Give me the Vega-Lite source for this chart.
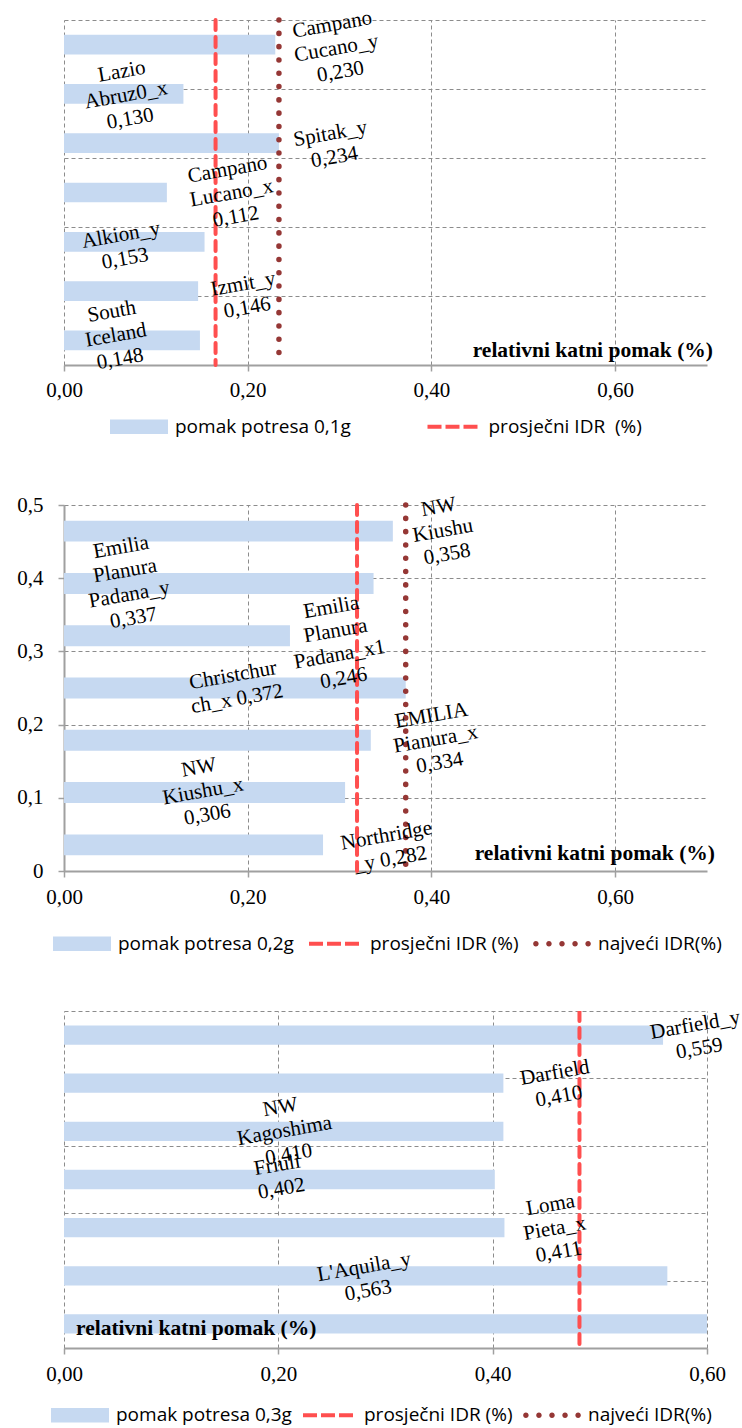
{
  "$schema": "https://vega.github.io/schema/vega-lite/v6.json",
  "background": "white",
  "padding": {"left": 16, "top": 6, "right": 0, "bottom": 0},
  "spacing": 140,
  "bounds": "flush",
  "config": {
    "view": {"stroke": null},
    "axis": {"gridColor": "#8c8c8c", "gridDash": [4, 3], "gridWidth": 1, "domainColor": "#a0a0a0", "domainWidth": 2, "tickColor": "#a0a0a0", "tickWidth": 1.5, "tickSize": 6, "labelFont": "Liberation Serif", "labelFontSize": 21, "labelColor": "#000000", "labelFlush": false, "labelOverlap": false},
    "legend": {"title": null, "orient": "none", "direction": "horizontal", "symbolSize": 841, "symbolStrokeWidth": 0, "labelFont": "Open Sans", "labelFontSize": 19, "labelColor": "#000000", "labelOffset": 21.5, "labelLimit": 400, "padding": 0}
  },
  "resolve": {"scale": {"fill": "independent", "shape": "independent"}},
  "datasets": {
    "bars": [
      {"panel": 1, "order": 1, "name": "Campano Cucano_y", "value": 0.230, "label": "Campano\nCucano_y\n0,230", "lx": 0.292, "ly": 0.493},
      {"panel": 1, "order": 2, "name": "Lazio Abruz0_x", "value": 0.130, "label": "Lazio\nAbruz0_x\n0,130", "lx": 0.063, "ly": 0.425},
      {"panel": 1, "order": 3, "name": "Spitak_y", "value": 0.234, "label": "Spitak_y\n0,234", "lx": 0.290, "ly": 0.335},
      {"panel": 1, "order": 4, "name": "Campano Lucano_x", "value": 0.112, "label": "Campano\nLucano_x\n0,112", "lx": 0.178, "ly": 0.283},
      {"panel": 1, "order": 5, "name": "Alkion_y", "value": 0.153, "label": "Alkion_y\n0,153", "lx": 0.062, "ly": 0.188},
      {"panel": 1, "order": 6, "name": "Izmit_y", "value": 0.146, "label": "Izmit_y\n0,146", "lx": 0.195, "ly": 0.117},
      {"panel": 1, "order": 7, "name": "South Iceland", "value": 0.148, "label": "South\nIceland\n0,148", "lx": 0.052, "ly": 0.077},
      {"panel": 2, "order": 1, "name": "NW Kiushu", "value": 0.358, "label": "NW\nKiushu\n0,358", "lx": 0.408, "ly": 0.497},
      {"panel": 2, "order": 2, "name": "Emilia Planura Padana_y", "value": 0.337, "label": "Emilia\nPlanura\nPadana_y\n0,337", "lx": 0.062, "ly": 0.442},
      {"panel": 2, "order": 3, "name": "Emilia Planura Padana_x1", "value": 0.246, "label": "Emilia\nPlanura\nPadana_x1\n0,246", "lx": 0.291, "ly": 0.360},
      {"panel": 2, "order": 4, "name": "Christchurch_x", "value": 0.372, "label": "Christchur\nch_x 0,372", "lx": 0.184, "ly": 0.267},
      {"panel": 2, "order": 5, "name": "EMILIA Pianura_x", "value": 0.334, "label": "EMILIA\nPianura_x\n0,334", "lx": 0.400, "ly": 0.212},
      {"panel": 2, "order": 6, "name": "NW Kiushu_x", "value": 0.306, "label": "NW\nKiushu_x\n0,306", "lx": 0.147, "ly": 0.141},
      {"panel": 2, "order": 7, "name": "Northridge_y", "value": 0.282, "label": "Northridge\n_y 0,282", "lx": 0.351, "ly": 0.048},
      {"panel": 3, "order": 1, "name": "Darfield_y", "value": 0.559, "label": "Darfield_y\n0,559", "lx": 0.589, "ly": 0.479},
      {"panel": 3, "order": 2, "name": "Darfield", "value": 0.410, "label": "Darfield\n0,410", "lx": 0.458, "ly": 0.408},
      {"panel": 3, "order": 3, "name": "NW Kagoshima", "value": 0.410, "label": "NW\nKagoshima\n0,410", "lx": 0.202, "ly": 0.357},
      {"panel": 3, "order": 4, "name": "Friuli", "value": 0.402, "label": "Friuli\n0,402", "lx": 0.199, "ly": 0.271},
      {"panel": 3, "order": 5, "name": "Loma Pieta_x", "value": 0.411, "label": "Loma\nPieta_x\n0,411", "lx": 0.454, "ly": 0.212},
      {"panel": 3, "order": 6, "name": "L'Aquila_y", "value": 0.563, "label": "L'Aquila_y\n0,563", "lx": 0.280, "ly": 0.120},
      {"panel": 3, "order": 7, "name": "bar 7", "value": 0.615, "label": null, "lx": null, "ly": null}
    ],
    "lines": [
      {"panel": 1, "kind": "avg", "value": 0.165},
      {"panel": 1, "kind": "max", "value": 0.234},
      {"panel": 2, "kind": "avg", "value": 0.319},
      {"panel": 2, "kind": "max", "value": 0.372},
      {"panel": 3, "kind": "avg", "value": 0.481},
      {"panel": 3, "kind": "max", "value": 0.615}
    ],
    "legend": [
      {"panel": 1, "series": "pomak potresa 0,1g"},
      {"panel": 1, "series": "prosječni IDR\u00a0 (%)"},
      {"panel": 2, "series": "pomak potresa 0,2g"},
      {"panel": 2, "series": "prosječni IDR (%)"},
      {"panel": 2, "series": "najveći IDR(%)"},
      {"panel": 3, "series": "pomak potresa 0,3g"},
      {"panel": 3, "series": "prosječni IDR (%)"},
      {"panel": 3, "series": "najveći IDR(%)"}
    ],
    "titles": [
      {"panel": 1, "t": "relativni katni pomak (%)"},
      {"panel": 2, "t": "relativni katni pomak (%)"},
      {"panel": 3, "t": "relativni katni pomak (%)"}
    ]
  },
  "vconcat": [
    {
      "width": 643, "height": 345,
      "resolve": {"scale": {"y": "independent"}},
      "layer": [
        {
          "data": {"name": "bars"},
          "transform": [{"filter": "datum.panel == 1"}],
          "mark": {"type": "bar", "color": "#C6D9F1", "opacity": 1},
          "encoding": {
            "x": {"field": "value", "type": "quantitative", "scale": {"domain": [0, 0.7], "nice": false}, "axis": {"values": [0, 0.2, 0.4, 0.6], "labelExpr": "replace(format(datum.value, '.2f'), '.', ',')", "labelPadding": 8, "title": null, "grid": true}},
            "y": {"field": "name", "type": "nominal", "sort": {"field": "order"}, "scale": {"paddingInner": 0.6, "paddingOuter": 0.3}, "axis": null}
          }
        },
        {
          "data": {"name": "lines"},
          "transform": [{"filter": "datum.panel == 1 && datum.kind == 'avg'"}],
          "mark": {"type": "rule", "color": "#FF4F4F", "strokeWidth": 4, "strokeDash": [10, 7], "strokeCap": "round"},
          "encoding": {"x": {"field": "value", "type": "quantitative"}}
        },
        {
          "data": {"name": "lines"},
          "transform": [{"filter": "datum.panel == 1 && datum.kind == 'max'"}],
          "mark": {"type": "rule", "color": "#953735", "strokeWidth": 5.5, "strokeDash": [0.1, 13.2], "strokeCap": "round"},
          "encoding": {"x": {"field": "value", "type": "quantitative"}}
        },
        {
          "data": {"name": "bars"},
          "transform": [{"filter": "datum.panel == 1"}],
          "mark": {"type": "text", "font": "Liberation Serif", "fontSize": 21, "angle": 350, "lineBreak": "\n", "lineHeight": 24, "align": "center", "baseline": "middle", "color": "#000000"},
          "encoding": {
            "x": {"field": "lx", "type": "quantitative"},
            "y": {"field": "ly", "type": "quantitative", "scale": {"domain": [0, 0.5], "nice": false}, "axis": {"orient": "left", "values": [0, 0.1, 0.2, 0.3, 0.4, 0.5], "grid": true, "labels": false, "ticks": false, "domain": false, "title": null}},
            "text": {"field": "label", "type": "nominal"}
          }
        },
        {
          "data": {"name": "titles"},
          "transform": [{"filter": "datum.panel == 1"}],
          "mark": {"type": "text", "font": "Liberation Serif", "fontSize": 21.5, "fontWeight": "bold", "align": "right", "baseline": "alphabetic", "dx": 6, "dy": -8, "color": "#000000"},
          "encoding": {
            "x": {"datum": 0.7, "type": "quantitative"},
            "y": {"datum": 0, "type": "quantitative", "scale": {"domain": [0, 0.5], "nice": false}, "axis": null},
            "text": {"field": "t", "type": "nominal"}
          }
        },
        {
          "data": {"name": "legend"},
          "transform": [{"filter": "datum.panel == 0"}],
          "mark": {"type": "point", "filled": true, "opacity": 1},
          "encoding": {
            "fill": {"field": "series", "type": "nominal", "scale": {"domain": ["pomak potresa 0,1g", "prosječni IDR\u00a0 (%)"], "range": ["#C6D9F1", "#FF4F4F"]},
              "legend": {"legendX": 60.5, "legendY": 392, "columnPadding": 75.5}},
            "shape": {"field": "series", "type": "nominal", "scale": {"domain": ["pomak potresa 0,1g", "prosječni IDR\u00a0 (%)"], "range": ["M-2,-0.5H2V0.5H-2Z", "M-1.724,-0.138H-0.758V0.138H-1.724Z M-0.482,-0.138H0.482V0.138H-0.482Z M0.758,-0.138H1.724V0.138H0.758Z"]},
              "legend": {"legendX": 60.5, "legendY": 392, "columnPadding": 75.5}}
          }
        }
      ]
    },
    {
      "width": 643, "height": 366,
      "resolve": {"scale": {"y": "independent"}},
      "layer": [
        {
          "data": {"name": "bars"},
          "transform": [{"filter": "datum.panel == 2"}],
          "mark": {"type": "bar", "color": "#C6D9F1", "opacity": 1},
          "encoding": {
            "x": {"field": "value", "type": "quantitative", "scale": {"domain": [0, 0.7], "nice": false}, "axis": {"values": [0, 0.2, 0.4, 0.6], "labelExpr": "replace(format(datum.value, '.2f'), '.', ',')", "labelPadding": 9, "title": null, "grid": true}},
            "y": {"field": "name", "type": "nominal", "sort": {"field": "order"}, "scale": {"paddingInner": 0.6, "paddingOuter": 0.3}, "axis": null}
          }
        },
        {
          "data": {"name": "lines"},
          "transform": [{"filter": "datum.panel == 2 && datum.kind == 'avg'"}],
          "mark": {"type": "rule", "color": "#FF4F4F", "strokeWidth": 4, "strokeDash": [10, 7], "strokeCap": "round"},
          "encoding": {"x": {"field": "value", "type": "quantitative"}}
        },
        {
          "data": {"name": "lines"},
          "transform": [{"filter": "datum.panel == 2 && datum.kind == 'max'"}],
          "mark": {"type": "rule", "color": "#953735", "strokeWidth": 5.5, "strokeDash": [0.1, 13.2], "strokeCap": "round"},
          "encoding": {"x": {"field": "value", "type": "quantitative"}}
        },
        {
          "data": {"name": "bars"},
          "transform": [{"filter": "datum.panel == 2"}],
          "mark": {"type": "text", "font": "Liberation Serif", "fontSize": 21, "angle": 350, "lineBreak": "\n", "lineHeight": 24, "align": "center", "baseline": "middle", "color": "#000000"},
          "encoding": {
            "x": {"field": "lx", "type": "quantitative"},
            "y": {"field": "ly", "type": "quantitative", "scale": {"domain": [0, 0.5], "nice": false}, "axis": {"orient": "left", "values": [0, 0.1, 0.2, 0.3, 0.4, 0.5], "grid": true, "labelExpr": "replace(format(datum.value, '.1~f'), '.', ',')", "labelPadding": 15, "ticks": true, "domain": true, "title": null}},
            "text": {"field": "label", "type": "nominal"}
          }
        },
        {
          "data": {"name": "titles"},
          "transform": [{"filter": "datum.panel == 2"}],
          "mark": {"type": "text", "font": "Liberation Serif", "fontSize": 21.5, "fontWeight": "bold", "align": "right", "baseline": "alphabetic", "dx": 8, "dy": -11, "color": "#000000"},
          "encoding": {
            "x": {"datum": 0.7, "type": "quantitative"},
            "y": {"datum": 0, "type": "quantitative", "scale": {"domain": [0, 0.5], "nice": false}, "axis": null},
            "text": {"field": "t", "type": "nominal"}
          }
        },
        {
          "data": {"name": "legend"},
          "transform": [{"filter": "datum.panel == 0"}],
          "mark": {"type": "point", "filled": true, "opacity": 1},
          "encoding": {
            "fill": {"field": "series", "type": "nominal", "scale": {"domain": ["pomak potresa 0,2g", "prosječni IDR (%)", "najveći IDR(%)"], "range": ["#C6D9F1", "#FF4F4F", "#953735"]},
              "legend": {"legendX": 3.5, "legendY": 424, "columnPadding": 14}},
            "shape": {"field": "series", "type": "nominal", "scale": {"domain": ["pomak potresa 0,2g", "prosječni IDR (%)", "najveći IDR(%)"], "range": ["M-2,-0.5H2V0.5H-2Z", "M-1.724,-0.138H-0.758V0.138H-1.724Z M-0.482,-0.138H0.482V0.138H-0.482Z M0.758,-0.138H1.724V0.138H0.758Z", "M-1.99,0a0.19,0.19 0 1,0 0.38,0a0.19,0.19 0 1,0 -0.38,0Z M-1.09,0a0.19,0.19 0 1,0 0.38,0a0.19,0.19 0 1,0 -0.38,0Z M-0.19,0a0.19,0.19 0 1,0 0.38,0a0.19,0.19 0 1,0 -0.38,0Z M0.71,0a0.19,0.19 0 1,0 0.38,0a0.19,0.19 0 1,0 -0.38,0Z M1.61,0a0.19,0.19 0 1,0 0.38,0a0.19,0.19 0 1,0 -0.38,0Z"]},
              "legend": {"legendX": 3.5, "legendY": 424, "columnPadding": 14}}
          }
        }
      ]
    },
    {
      "width": 643, "height": 337,
      "resolve": {"scale": {"y": "independent"}},
      "layer": [
        {
          "data": {"name": "bars"},
          "transform": [{"filter": "datum.panel == 3"}],
          "mark": {"type": "bar", "color": "#C6D9F1", "opacity": 1, "clip": true},
          "encoding": {
            "x": {"field": "value", "type": "quantitative", "scale": {"domain": [0, 0.6], "nice": false}, "axis": {"values": [0, 0.2, 0.4, 0.6], "labelExpr": "replace(format(datum.value, '.2f'), '.', ',')", "labelPadding": 9, "title": null, "grid": true}},
            "y": {"field": "name", "type": "nominal", "sort": {"field": "order"}, "scale": {"paddingInner": 0.6, "paddingOuter": 0.3}, "axis": null}
          }
        },
        {
          "data": {"name": "lines"},
          "transform": [{"filter": "datum.panel == 3 && datum.kind == 'avg'"}],
          "mark": {"type": "rule", "color": "#FF4F4F", "strokeWidth": 4, "strokeDash": [10, 7], "strokeCap": "round", "clip": true},
          "encoding": {"x": {"field": "value", "type": "quantitative"}}
        },
        {
          "data": {"name": "lines"},
          "transform": [{"filter": "datum.panel == 3 && datum.kind == 'max'"}],
          "mark": {"type": "rule", "color": "#953735", "strokeWidth": 5.5, "strokeDash": [0.1, 13.2], "strokeCap": "round", "clip": true},
          "encoding": {"x": {"field": "value", "type": "quantitative"}}
        },
        {
          "data": {"name": "bars"},
          "transform": [{"filter": "datum.panel == 3"}],
          "mark": {"type": "text", "font": "Liberation Serif", "fontSize": 21, "angle": 350, "lineBreak": "\n", "lineHeight": 24, "align": "center", "baseline": "middle", "color": "#000000"},
          "encoding": {
            "x": {"field": "lx", "type": "quantitative"},
            "y": {"field": "ly", "type": "quantitative", "scale": {"domain": [0, 0.5], "nice": false}, "axis": {"orient": "left", "values": [0, 0.1, 0.2, 0.3, 0.4, 0.5], "grid": true, "labels": false, "ticks": false, "domain": false, "title": null}},
            "text": {"field": "label", "type": "nominal"}
          }
        },
        {
          "data": {"name": "titles"},
          "transform": [{"filter": "datum.panel == 3"}],
          "mark": {"type": "text", "font": "Liberation Serif", "fontSize": 21.5, "fontWeight": "bold", "align": "left", "baseline": "alphabetic", "dx": 12, "dy": -13, "color": "#000000"},
          "encoding": {
            "x": {"datum": 0, "type": "quantitative"},
            "y": {"datum": 0, "type": "quantitative", "scale": {"domain": [0, 0.5], "nice": false}, "axis": null},
            "text": {"field": "t", "type": "nominal"}
          }
        },
        {
          "data": {"name": "legend"},
          "transform": [{"filter": "datum.panel == 0"}],
          "mark": {"type": "point", "filled": true, "opacity": 1},
          "encoding": {
            "fill": {"field": "series", "type": "nominal", "scale": {"domain": ["pomak potresa 0,3g", "prosječni IDR (%)", "najveći IDR(%)"], "range": ["#C6D9F1", "#FF4F4F", "#953735"]},
              "legend": {"legendX": 1.5, "legendY": 389.5, "columnPadding": 10}},
            "shape": {"field": "series", "type": "nominal", "scale": {"domain": ["pomak potresa 0,3g", "prosječni IDR (%)", "najveći IDR(%)"], "range": ["M-2,-0.5H2V0.5H-2Z", "M-1.724,-0.138H-0.758V0.138H-1.724Z M-0.482,-0.138H0.482V0.138H-0.482Z M0.758,-0.138H1.724V0.138H0.758Z", "M-1.99,0a0.19,0.19 0 1,0 0.38,0a0.19,0.19 0 1,0 -0.38,0Z M-1.09,0a0.19,0.19 0 1,0 0.38,0a0.19,0.19 0 1,0 -0.38,0Z M-0.19,0a0.19,0.19 0 1,0 0.38,0a0.19,0.19 0 1,0 -0.38,0Z M0.71,0a0.19,0.19 0 1,0 0.38,0a0.19,0.19 0 1,0 -0.38,0Z M1.61,0a0.19,0.19 0 1,0 0.38,0a0.19,0.19 0 1,0 -0.38,0Z"]},
              "legend": {"legendX": 1.5, "legendY": 389.5, "columnPadding": 10}}
          }
        }
      ]
    }
  ]
}
